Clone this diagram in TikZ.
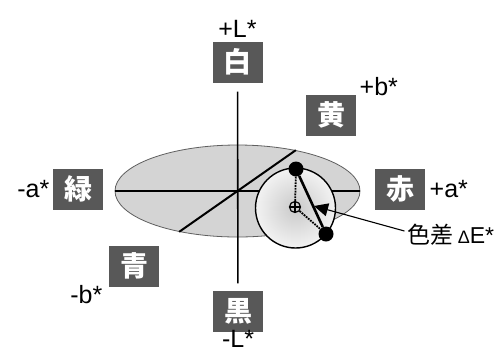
\documentclass[tikz,border=0pt]{standalone}
\usepackage{fontspec}
\setmainfont{Liberation Sans}
\newfontfamily\cjk{Noto Sans CJK JP}
\usepackage{tikz}
\usetikzlibrary{arrows.meta,positioning,shapes.geometric}

\definecolor{boxgray}{RGB}{88,88,88}
\definecolor{discgray}{RGB}{212,212,212}
\definecolor{rimgray}{RGB}{95,95,95}

\begin{document}
\begin{tikzpicture}[
  x=1pt,y=-1pt,
  box/.style={fill=boxgray,text=white,minimum width=50pt,minimum height=41pt,
              inner sep=0pt,font=\cjk\bfseries\fontsize{28}{28}\selectfont},
  axlabel/.style={font=\fontsize{25}{25}\selectfont},
  axis/.style={line width=1.6pt},
  dot/.style={circle,fill=black,minimum size=15pt,inner sep=0pt},
  arrow/.style={-{Triangle[length=14pt,width=13pt]},line width=1.1pt}
]
\useasboundingbox (0,0) rectangle (494,354);

% colour disc and axes
\node[ellipse,draw=rimgray,fill=discgray,line width=0.8pt,
      minimum width=245pt,minimum height=92pt] (disc) at (237.5,191) {};
\draw[axis,line width=2pt] (disc.west) -- (disc.east);
\draw[axis,line width=2pt] (disc.215) -- (disc.35);

% boxes
\node[box] (white)  at (237.5,62)  {白};
\node[box] (yellow) at (331,115)   {黄};
\node[box] (red)    at (400,189)   {赤};
\node[box] (green)  at (78,189)    {緑};
\node[box] (blue)   at (134,266)   {青};
\node[box] (black)  at (238,311)   {黒};
\draw[axis,shorten <=9pt,shorten >=7pt] (white) -- (black);

% axis labels
\node[axlabel,above=0pt of white] (plusL) {+L*};
\node[axlabel,below=-5pt of black] (minusL) {-L*};
\node[axlabel,right=1pt of red] (plusA) {+a*};
\node[axlabel,left=0pt of green] (minusA) {-a*};
\node[axlabel,anchor=west] (plusB) at ([yshift=8pt]yellow.north east) {+b*};
\node[axlabel,anchor=east] (minusB) at ([xshift=-3pt,yshift=-8pt]blue.south west) {-b*};

% colour difference
\node[circle,draw,line width=1.4pt,minimum size=80pt,
      inner color=gray!42,outer color=gray!10] (spot) at (295.5,208) {};
\node[dot] (p1) at (296,169) {};
\node[dot] (p2) at (326,234) {};
\node[circle,draw,line width=1.2pt,minimum size=11pt,inner sep=0pt] (ctr) at (295,207) {};
\draw[line width=1.2pt] (ctr.north) -- (ctr.south) (ctr.west) -- (ctr.east);
\draw[densely dotted,line width=1.8pt] (p1) -- (ctr);
\draw[densely dotted,line width=1.8pt] (ctr) -- (p2);
\draw[line width=2.6pt] (p1) -- (p2);

\node[axlabel,font=\fontsize{23}{23}\selectfont] (diff) at (451,235)
  {{\cjk 色差}\,{\fontsize{18}{18}\selectfont Δ}E*};
\coordinate (tip) at (314,206);
\draw[arrow] ([yshift=4pt]diff.west) -- (tip);
\end{tikzpicture}
\end{document}
